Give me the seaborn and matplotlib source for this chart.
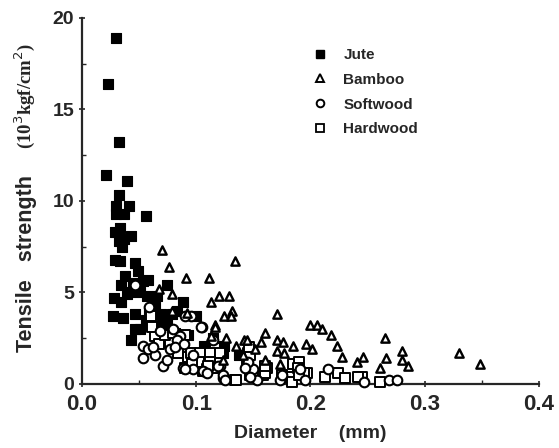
import numpy as np
import pandas as pd
import matplotlib
matplotlib.use("Agg")
import matplotlib.pyplot as plt
from matplotlib.lines import Line2D
from matplotlib.ticker import MultipleLocator
import seaborn as sns

# ---- data (diameter mm, tensile strength 10^3 kgf/cm^2) ----
jute_x = [0.030, 0.023, 0.032, 0.021, 0.039, 0.032, 0.030, 0.041, 0.037, 0.056, 0.030,
          0.029, 0.033, 0.043, 0.037, 0.032, 0.035, 0.029, 0.033, 0.046, 0.049, 0.038,
          0.034, 0.045, 0.053, 0.042, 0.051, 0.057, 0.028, 0.034, 0.039, 0.058, 0.027,
          0.036, 0.046, 0.059, 0.056, 0.064, 0.069, 0.074, 0.088, 0.083, 0.046, 0.043,
          0.051, 0.057, 0.079, 0.100, 0.115, 0.093, 0.108, 0.081, 0.070, 0.124, 0.112,
          0.066, 0.074, 0.107, 0.123, 0.137]
jute_y = [18.9, 16.4, 13.2, 11.4, 11.1, 10.3, 9.7, 9.7, 9.3, 9.2, 9.3,
          8.3, 8.5, 8.1, 7.9, 7.8, 7.5, 6.8, 6.7, 6.6, 6.2, 5.9,
          5.4, 5.5, 5.6, 5.0, 5.0, 4.8, 4.7, 4.5, 4.9, 5.7, 3.7,
          3.6, 3.8, 4.0, 3.5, 4.2, 3.8, 3.3, 4.5, 4.0, 3.0, 2.4,
          3.0, 3.2, 3.8, 3.7, 2.5, 2.7, 2.0, 2.8, 3.2, 2.1, 1.6,
          4.8, 5.4, 2.1, 1.7, 1.6]

bamboo_x = [0.134, 0.111, 0.120, 0.129, 0.113, 0.131, 0.124, 0.130, 0.171, 0.116, 0.116,
            0.200, 0.206, 0.210, 0.218, 0.160, 0.113, 0.126, 0.142, 0.157, 0.171, 0.176,
            0.196, 0.265, 0.135, 0.151, 0.185, 0.223, 0.171, 0.201, 0.177, 0.228, 0.246,
            0.241, 0.266, 0.160, 0.123, 0.173, 0.261, 0.280, 0.280, 0.285, 0.330, 0.348,
            0.070, 0.076, 0.091, 0.067, 0.079, 0.079, 0.092, 0.144, 0.141]
bamboo_y = [6.7, 5.8, 4.8, 4.8, 4.5, 4.0, 3.7, 3.7, 3.8, 3.2, 3.1,
            3.2, 3.2, 3.0, 2.7, 2.8, 2.6, 2.5, 2.4, 2.3, 2.4, 2.3,
            2.2, 2.5, 2.1, 1.9, 2.1, 2.1, 1.8, 1.9, 1.7, 1.5, 1.5,
            1.2, 1.4, 1.3, 1.3, 1.1, 0.9, 1.8, 1.3, 1.0, 1.7, 1.1,
            7.3, 6.4, 5.8, 5.2, 4.9, 4.0, 3.9, 2.4, 1.6]

soft_x = [0.046, 0.059, 0.095, 0.105, 0.053, 0.058, 0.064, 0.053, 0.071, 0.088, 0.097,
          0.080, 0.068, 0.086, 0.077, 0.062, 0.074, 0.104, 0.090, 0.083, 0.081, 0.089,
          0.097, 0.090, 0.106, 0.123, 0.121, 0.150, 0.153, 0.145, 0.115, 0.119, 0.123,
          0.125, 0.173, 0.195, 0.215, 0.247, 0.269, 0.276, 0.175, 0.143, 0.147, 0.109,
          0.191]
soft_y = [5.4, 4.2, 3.7, 3.1, 2.1, 1.9, 1.6, 1.4, 1.0, 0.9, 0.8,
          3.0, 2.9, 2.6, 1.9, 2.0, 1.3, 3.1, 3.7, 2.4, 2.0, 2.2,
          1.6, 0.8, 0.7, 0.3, 1.0, 0.8, 0.2, 1.2, 2.4, 1.0, 0.5,
          0.2, 0.2, 0.2, 0.8, 0.1, 0.2, 0.2, 0.5, 0.9, 0.4, 0.6,
          0.8]

hard_x = [0.060, 0.064, 0.067, 0.081, 0.084, 0.093, 0.101, 0.106, 0.090, 0.077, 0.073,
          0.061, 0.080, 0.090, 0.095, 0.103, 0.112, 0.121, 0.102, 0.112, 0.109, 0.145,
          0.144, 0.147, 0.134, 0.151, 0.158, 0.096, 0.115, 0.110, 0.147, 0.146, 0.162,
          0.160, 0.135, 0.182, 0.185, 0.190, 0.189, 0.197, 0.213, 0.224, 0.230, 0.245,
          0.261, 0.184, 0.194, 0.160, 0.175, 0.190, 0.242]
hard_y = [3.7, 2.6, 2.2, 2.2, 1.7, 1.5, 1.1, 0.7, 0.9, 2.3, 2.7,
          3.1, 2.8, 2.7, 1.7, 1.7, 1.7, 1.7, 1.2, 1.2, 0.8, 1.7,
          1.0, 0.5, 0.2, 0.4, 0.5, 1.1, 0.9, 1.0, 1.6, 2.0, 0.9,
          0.6, 0.2, 0.4, 1.1, 1.2, 0.9, 0.6, 0.4, 0.6, 0.3, 0.4,
          0.1, 0.1, 0.6, 1.0, 0.5, 0.5, 0.4]

labels = ["Jute", "Bamboo", "Softwood", "Hardwood"]
x_ticks = [0.0, 0.1, 0.2, 0.3, 0.4]
x_ticklabels = ["0.0", "0.1", "0.2", "0.3", "0.4"]
y_ticks = [0, 5, 10, 15, 20]
y_ticklabels = ["0", "5", "10", "15", "20"]

df = pd.concat([
    pd.DataFrame({"d": jute_x, "s": jute_y, "fiber": "Jute"}),
    pd.DataFrame({"d": bamboo_x, "s": bamboo_y, "fiber": "Bamboo"}),
    pd.DataFrame({"d": soft_x, "s": soft_y, "fiber": "Softwood"}),
    pd.DataFrame({"d": hard_x, "s": hard_y, "fiber": "Hardwood"}),
], ignore_index=True)

sns.set_style("ticks")
plt.rcParams["font.family"] = ["Liberation Sans", "DejaVu Sans"]

fig = plt.figure(figsize=(5.59, 4.48), dpi=100)
ax = fig.add_axes([0.1467, 0.1429, 0.8175, 0.8171])

styles = {
    "Jute": dict(marker="s", facecolor="black", edgecolor="black", s=50, linewidth=0.8),
    "Bamboo": dict(marker="^", facecolor="white", edgecolor="black", s=36, linewidth=1.7),
    "Softwood": dict(marker="o", facecolor="white", edgecolor="black", s=48, linewidth=1.5),
    "Hardwood": dict(marker="s", facecolor="white", edgecolor="black", s=46, linewidth=1.4),
}
for name in ["Jute", "Hardwood", "Softwood", "Bamboo"]:
    sub = df[df["fiber"] == name]
    st = styles[name]
    sns.scatterplot(data=sub, x="d", y="s", ax=ax, marker=st["marker"],
                    color=st["facecolor"], edgecolor=st["edgecolor"],
                    s=st["s"], linewidth=st["linewidth"], legend=False, zorder=3,
                    clip_on=False)

ax.set_xlim(0, 0.4)
ax.set_ylim(0, 20)
ax.xaxis.set_minor_locator(MultipleLocator(0.05))
ax.yaxis.set_minor_locator(MultipleLocator(2.5))
ax.set_xticks(x_ticks)
ax.set_xticklabels(x_ticklabels)
ax.set_yticks(y_ticks)
ax.set_yticklabels(y_ticklabels)
ax.tick_params(axis="both", which="major", direction="inout", length=5, width=1.2,
               labelsize=14)
ax.tick_params(axis="y", which="major", pad=3)
ax.tick_params(axis="x", which="major", pad=5, labelsize=16)
ax.tick_params(axis="both", which="minor", direction="in", length=3, width=1.0)
for lab in ax.get_xticklabels() + ax.get_yticklabels():
    lab.set_fontweight("bold")
for sp in ["top", "right"]:
    ax.spines[sp].set_visible(False)
for sp in ["left", "bottom"]:
    ax.spines[sp].set_linewidth(1.6)

ax.set_xlabel("Diameter    (mm)", fontsize=14, fontweight="bold", labelpad=7)
ax.set_ylabel("")
fig.text(0.047, 0.412, "Tensile   strength", rotation=90, ha="center", va="center",
         fontsize=15.5, fontweight="bold")
fig.text(0.045, 0.785, "(10$^3$kgf/cm$^2$)", rotation=90, ha="center", va="center",
         fontsize=13.5, fontweight="bold", family="Liberation Serif")

handles = [
    Line2D([], [], linestyle="none", marker="s", markerfacecolor="black",
           markeredgecolor="black", markersize=5.5),
    Line2D([], [], linestyle="none", marker="^", markerfacecolor="white",
           markeredgecolor="black", markersize=5.5, markeredgewidth=1.4),
    Line2D([], [], linestyle="none", marker="o", markerfacecolor="white",
           markeredgecolor="black", markersize=5.5, markeredgewidth=1.4),
    Line2D([], [], linestyle="none", marker="s", markerfacecolor="white",
           markeredgecolor="black", markersize=5.5, markeredgewidth=1.3),
]
leg = ax.legend(handles, labels, loc="upper left", bbox_to_anchor=(0.475, 0.955),
                frameon=False, handlelength=1.0, handletextpad=1.0,
                labelspacing=0.7, prop={"weight": "bold", "size": 11})

fig.savefig("out.png", dpi=100)
